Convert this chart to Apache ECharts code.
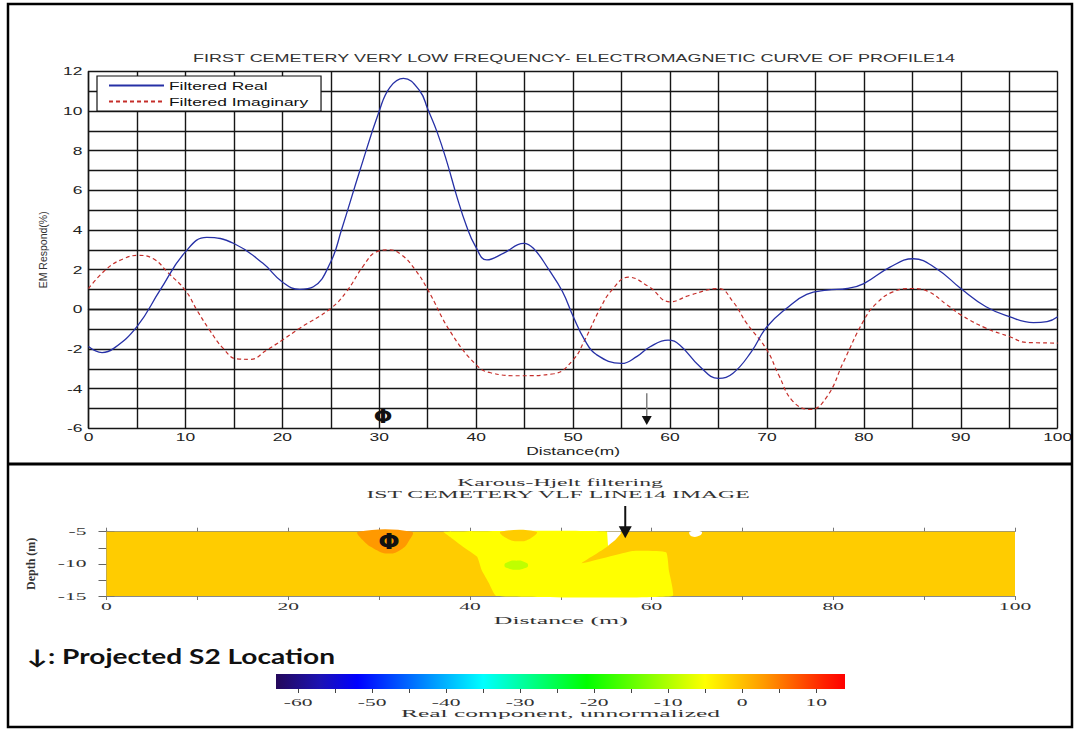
<!DOCTYPE html>
<html>
<head>
<meta charset="utf-8">
<script src="https://cdn.jsdelivr.net/npm/echarts@6/dist/echarts.min.js"></script>
<style>
  html, body { margin: 0; padding: 0; background: #fff; }
  #chart { width: 1075px; height: 732px; }
</style>
</head>
<body>
<div id="chart"></div>
<script>
// ---- Profile 14: filtered VLF-EM readings (distance in m, response in %) ----
const realDistance = [0,1.4,2.6,5,7.4,10,12.2,15,18,20,21.8,23.2,25,26.1,28,30,31.1,32.5,34.2,35,36,37,38,39,39.9,41.1,42.8,44.9,45.9,47.5,48.9,50,51.2,52.4,55,56.6,57.9,59.8,61,63.1,65,66.5,68.4,70,72.1,74.1,76.2,78.3,80,82.7,85.1,87.5,90,92.6,95,97.5,98.9,100];
const realValues = [-1.88,-2.18,-1.97,-0.87,0.98,2.9,3.63,3.32,2.32,1.38,1.01,1.14,2.4,4.0,7.0,10.0,11.2,11.65,11.0,10.1,8.9,7.4,5.7,4.2,3.2,2.49,2.82,3.33,3.08,2.0,0.9,-0.35,-1.55,-2.28,-2.73,-2.37,-1.9,-1.55,-1.8,-2.9,-3.48,-3.22,-2.13,-0.88,0.08,0.75,0.97,1.05,1.3,2.13,2.55,2.05,1.05,0.13,-0.37,-0.67,-0.62,-0.37];

const imagDistance = [0,1.9,3.6,5.1,6.7,8.2,10,11.2,12.5,13.9,15.3,16.7,18.4,20,21.8,25,26.6,28.4,29.7,31,32.3,33.7,35,37.3,40,41.5,44.5,48,50,51.2,52.8,54,55.7,57.8,60,62.1,65,66.5,67.9,70,71.2,72.7,74.5,76.2,77.9,80,81.3,83,85,86.5,88.6,90,92.6,95,96.8,100];
const imagValues = [1.05,2.05,2.55,2.72,2.55,1.85,0.95,-0.05,-1.05,-1.97,-2.5,-2.52,-2.05,-1.55,-0.95,0.05,0.88,2.22,2.9,3.0,2.75,2.0,1.0,-1.1,-2.8,-3.2,-3.35,-3.25,-2.55,-1.55,0.05,0.97,1.62,1.15,0.38,0.72,1.05,0.38,-0.7,-2.05,-3.3,-4.65,-5.05,-4.4,-2.65,-0.55,0.3,0.88,1.05,0.93,0.22,-0.28,-0.95,-1.37,-1.67,-1.7];

const seriesNames = ['Filtered Real', 'Filtered Imaginary'];

// Annotations: the grave symbol and the projected S2 position
const graveSymbol = 'Φ';
const graveTop = [30.4, -5.4];          // [distance, response]
const s2Top = [57.6, -4.23, -5.83];     // [distance, arrow start, arrow tip]
const graveBottom = [31.1, -6.6];       // [distance, depth]
const s2Bottom = [57.1, -1.0, -6.0];    // [distance, arrow start depth, tip depth]

// ---- Karous-Hjelt section: filled contour bands [distance, depth] ----
const fullSection  = [[0,-5],[100,-5],[100,-15],[0,-15]];
const phiAnomaly   = [[27.7,-5],[28.2,-6.3],[29.4,-7.6],[31,-8.4],[32.4,-7.8],[33.3,-6.4],[33.6,-5]];
const yellowZone   = [[37.1,-5],[55.2,-5],[55.3,-7.1],[52.3,-9.9],[57.9,-8.0],[61.6,-8.2],[61.9,-11],[62.3,-15],[42.9,-15],[42.1,-13],[41.3,-11],[40.8,-8.9],[39.2,-7.3],[37.9,-5.9]];
const orangeNotch  = [[43.4,-5],[43.9,-5.9],[45.3,-6.5],[46.7,-6.0],[47.3,-5]];
const greenCore    = [[43.8,-10.2],[44.2,-9.7],[45.1,-9.5],[46.0,-9.7],[46.4,-10.2],[46.0,-10.7],[45.1,-10.9],[44.2,-10.7]];
const gapNearS2    = [[55.1,-5],[55.2,-7.2],[56.0,-6.3],[56.6,-5.3],[56.6,-5]];
const gapEast      = [[64.2,-5],[64.4,-5.7],[65.3,-5.6],[65.5,-5]];

const bandShapes = [fullSection, phiAnomaly, yellowZone, orangeNotch, greenCore, gapNearS2, gapEast];
const bandLevels = [-1, 3, -5, -1, -9, null, null];   // null = blanked
const bandSmooth = [0, 0.45, 0.12, 0.5, 0.6, 0, 0.5];

// Colour scale of the real component
const scaleMin = -63, scaleMax = 13.9;
const colorStops = [[-63,'#24085a'],[-57,'#1c12b4'],[-52,'#0000ff'],[-35,'#00ffff'],[-21,'#00ff00'],[-5,'#ffff00'],[3,'#ff9900'],[11,'#ff2200'],[13.9,'#ff0000']];
const colorbarLabels = [-60,-50,-40,-30,-20,-10,0,10];
const colorbarTicks = [-60,-55,-50,-45,-40,-35,-30,-25,-20,-15,-10,-5,0,5,10];

const chartTitle = 'FIRST CEMETERY VERY LOW FREQUENCY- ELECTROMAGNETIC CURVE OF PROFILE14';
const sectionTitle = 'Karous-Hjelt filtering';
const sectionSubtitle = 'IST CEMETERY VLF LINE14 IMAGE';
const s2Note = '↓: Projected S2 Location';
const colorbarName = 'Real component, unnormalized';

// Horizontal widening of the text (wide lettering), per font family,
// with a few strings given an explicit drawn width in px
const textStretch = { 'Liberation Sans': 1.58, 'Liberation Serif': 2.15, 'Lato': 1.3, 'DejaVu Sans': 1.15 };
const textWidth = {};
textWidth[chartTitle] = 762;
textWidth[colorbarName] = 319;
textWidth[s2Note] = 308;
textWidth['Distance (m)'] = 134;

function hexRgb(h) { return [1, 3, 5].map(i => parseInt(h.substr(i, 2), 16)); }
function levelColor(v) {
  if (v === null) return '#ffffff';
  if (v <= colorStops[0][0]) return colorStops[0][1];
  for (let i = 1; i < colorStops.length; i++) {
    const [v1, c1] = colorStops[i];
    if (v <= v1) {
      const [v0, c0] = colorStops[i - 1];
      const t = (v - v0) / (v1 - v0);
      const a = hexRgb(c0), b = hexRgb(c1);
      return 'rgb(' + a.map((x, k) => Math.round(x + (b[k] - x) * t)).join(',') + ')';
    }
  }
  return colorStops[colorStops.length - 1][1];
}

const zip = (xs, ys) => xs.map((x, i) => [x, ys[i]]);

const SANS = 'Liberation Sans', SERIF = 'Liberation Serif';
const gridLine = { color: '#161616', width: 1.4 };
const sansLabel = { fontFamily: SANS, fontSize: 11, color: '#222' };
const serifLabel = { fontFamily: SERIF, fontSize: 10, color: '#333' };

function arrowRenderer(shaftColor, shaftWidth, headW, headL) {
  return function (params, api) {
    const start = api.coord([api.value(0), api.value(1)]);
    const tip = api.coord([api.value(0), api.value(2)]);
    return {
      type: 'group',
      children: [
        { type: 'line', shape: { x1: start[0], y1: start[1], x2: tip[0], y2: tip[1] - headL + 1 },
          style: { stroke: shaftColor, lineWidth: shaftWidth } },
        { type: 'polygon', shape: { points: [[tip[0] - headW / 2, tip[1] - headL], [tip[0] + headW / 2, tip[1] - headL], [tip[0], tip[1]]] },
          style: { fill: '#111' } }
      ]
    };
  };
}
function symbolRenderer(size) {
  return function (params, api) {
    const p = api.coord([api.value(0), api.value(1)]);
    return { type: 'text', x: p[0], y: p[1],
      style: { text: graveSymbol, fill: '#111', fontSize: size, fontWeight: 'bold', fontFamily: 'DejaVu Sans',
               align: 'center', verticalAlign: 'middle' } };
  };
}

const option = {
  animation: false,
  backgroundColor: '#fff',
  legend: {
    data: seriesNames,
    orient: 'vertical',
    left: 97, top: 76,
    padding: [4, 64, 4, 11],
    itemGap: 5, itemWidth: 55, itemHeight: 11,
    itemStyle: { opacity: 0 },
    backgroundColor: '#fff', borderColor: '#111', borderWidth: 1.2, borderRadius: 0,
    textStyle: { fontFamily: SANS, fontSize: 11, color: '#111' }
  },
  grid: [
    { left: 88.5, right: 17.3, top: 71.4, bottom: 303.7 },
    { left: 106.5, right: 60, top: 531.7, bottom: 136 },
    { left: 276, right: 230, top: 674, bottom: 43 }
  ],
  xAxis: [
    { gridIndex: 0, type: 'value', min: 0, max: 100, interval: 5,
      axisLine: { lineStyle: gridLine }, axisTick: { show: false },
      splitLine: { show: true, lineStyle: gridLine },
      axisLabel: Object.assign({ margin: 3, formatter: v => (v % 10 === 0 ? String(v) : '') }, sansLabel),
      name: 'Distance(m)', nameLocation: 'middle', nameGap: 17,
      nameTextStyle: Object.assign({}, sansLabel) },
    { gridIndex: 1, type: 'value', min: 0, max: 100, interval: 10, position: 'bottom',
      axisLine: { lineStyle: { color: '#8a8a8a', width: 1 } },
      axisTick: { show: true, length: 4, lineStyle: { color: '#777' } },
      splitLine: { show: false },
      axisLabel: Object.assign({ margin: 5, formatter: v => (v % 20 === 0 ? String(v) : '') }, serifLabel),
      name: 'Distance (m)', nameLocation: 'middle', nameGap: 18,
      nameTextStyle: { fontFamily: SERIF, fontSize: 11, color: '#333' } },
    { gridIndex: 1, type: 'value', min: 0, max: 100, interval: 10, position: 'top',
      axisLine: { lineStyle: { color: '#8a8a8a', width: 1 } },
      axisTick: { show: true, length: 4, lineStyle: { color: '#777' } },
      splitLine: { show: false }, axisLabel: { show: false } },
    { gridIndex: 2, type: 'value', min: scaleMin, max: scaleMax,
      axisLine: { show: false },
      axisTick: { show: true, length: 4, customValues: colorbarTicks, lineStyle: { color: '#444' } },
      splitLine: { show: false },
      axisLabel: Object.assign({ margin: 8, customValues: colorbarLabels }, serifLabel),
      name: colorbarName, nameLocation: 'middle', nameGap: 17,
      nameTextStyle: { fontFamily: SERIF, fontSize: 11, color: '#333' } }
  ],
  yAxis: [
    { gridIndex: 0, type: 'value', min: -6, max: 12, interval: 1,
      axisLine: { lineStyle: gridLine }, axisTick: { show: false },
      splitLine: { show: true, lineStyle: gridLine },
      axisLabel: Object.assign({ margin: 6, formatter: v => (v % 2 === 0 ? String(v) : '') }, sansLabel),
      name: 'EM Respond(%)', nameLocation: 'middle', nameRotate: 90, nameGap: 40,
      nameTextStyle: { fontFamily: 'Arial', fontSize: 10.5, color: '#333' } },
    { gridIndex: 1, type: 'value', min: -15, max: -5, interval: 2.5, position: 'left',
      axisLine: { lineStyle: { color: '#5e5e44', width: 2 } },
      axisTick: { show: true, length: 8, lineStyle: { color: '#666' } },
      splitLine: { show: false },
      axisLabel: Object.assign({ margin: 20, formatter: v => (v % 5 === 0 ? String(v) : '') }, serifLabel),
      name: 'Depth (m)', nameLocation: 'middle', nameRotate: 90, nameGap: 70,
      nameTextStyle: { fontFamily: SERIF, fontSize: 12, fontWeight: 'bold', color: '#333' } },
    { gridIndex: 1, type: 'value', min: -15, max: -5, interval: 2.5, position: 'right',
      axisLine: { lineStyle: { color: '#8a8a8a', width: 1 } },
      axisTick: { show: true, length: 8, lineStyle: { color: '#777' } },
      splitLine: { show: false }, axisLabel: { show: false } },
    { gridIndex: 2, type: 'value', min: 0, max: 1, show: false }
  ],
  graphic: [
    { type: 'rect', shape: { x: 8, y: 4, width: 1064, height: 723 },
      style: { fill: 'none', stroke: '#000', lineWidth: 2.5 }, z: 100 },
    { type: 'line', shape: { x1: 8, y1: 464, x2: 1072, y2: 464 },
      style: { stroke: '#000', lineWidth: 3 }, z: 100 },
    { type: 'text', x: 574, y: 58,
      style: { text: chartTitle, fill: '#333', fontFamily: SANS, fontSize: 10.5, align: 'center', verticalAlign: 'middle' } },
    { type: 'text', x: 560, y: 482,
      style: { text: sectionTitle, fill: '#333', fontFamily: SERIF, fontSize: 11, align: 'center', verticalAlign: 'middle' } },
    { type: 'text', x: 558, y: 493.5,
      style: { text: sectionSubtitle, fill: '#333', fontFamily: SERIF, fontSize: 11, align: 'center', verticalAlign: 'middle' } },
    { type: 'text', x: 27, y: 656,
      style: { text: s2Note, fill: '#111', fontFamily: 'Lato', fontWeight: 'bold', fontSize: 20,
               align: 'left', verticalAlign: 'middle' } }
  ],
  series: [
    { name: seriesNames[0], type: 'line', xAxisIndex: 0, yAxisIndex: 0,
      data: zip(realDistance, realValues), showSymbol: false, symbol: 'none',
      smooth: 0.45,
      lineStyle: { color: '#2630a6', width: 1.3 }, itemStyle: { color: '#2630a6' }, z: 5 },
    { name: seriesNames[1], type: 'line', xAxisIndex: 0, yAxisIndex: 0,
      data: zip(imagDistance, imagValues), showSymbol: false, symbol: 'none',
      smooth: 0.45,
      lineStyle: { color: '#c52e2a', width: 1.2, type: [4, 3] }, itemStyle: { color: '#c52e2a' }, z: 4 },
    { type: 'custom', xAxisIndex: 0, yAxisIndex: 0, data: [s2Top],
      renderItem: arrowRenderer('#808080', 1.5, 10, 9), z: 6, silent: true },
    { type: 'custom', xAxisIndex: 0, yAxisIndex: 0, data: [graveTop],
      renderItem: symbolRenderer(19), z: 6, silent: true },
    { type: 'custom', xAxisIndex: 1, yAxisIndex: 1,
      data: bandShapes.map((s, i) => [s[0][0], s[0][1], i]),
      renderItem: function (params, api) {
        const i = params.dataIndex;
        return { type: 'polygon',
          shape: { points: bandShapes[i].map(p => api.coord(p)), smooth: bandSmooth[i] },
          style: { fill: levelColor(bandLevels[i]) } };
      }, z: 1, silent: true },
    { type: 'custom', xAxisIndex: 1, yAxisIndex: 1, data: [s2Bottom],
      renderItem: arrowRenderer('#111', 2, 13, 12), z: 6, silent: true, clip: false },
    { type: 'custom', xAxisIndex: 1, yAxisIndex: 1, data: [graveBottom],
      renderItem: symbolRenderer(22), z: 6, silent: true },
    { type: 'custom', xAxisIndex: 3, yAxisIndex: 3, data: [[scaleMin, scaleMax]],
      renderItem: function (params, api) {
        const a = api.coord([api.value(0), 1]);
        const b = api.coord([api.value(1), 0]);
        const span = scaleMax - scaleMin;
        const stops = colorStops.map(([v, c]) => ({ offset: (v - scaleMin) / span, color: c }));
        return { type: 'rect', shape: { x: a[0], y: a[1], width: b[0] - a[0], height: b[1] - a[1] },
          style: { fill: new echarts.graphic.LinearGradient(0, 0, 1, 0, stops) } };
      }, z: 1, silent: true }
  ]
};

const chart = echarts.init(document.getElementById('chart'), null, { renderer: 'svg', width: 1075, height: 732 });

function widenTexts() {
  const svg = document.querySelector('#chart svg');
  if (!svg) return;
  svg.querySelectorAll('text').forEach(t => {
    if (t.hasAttribute('textLength')) return;
    const tr = t.getAttribute('transform') || '';
    const m = tr.match(/matrix\(([^)]+)\)/);
    if (m) {
      const p = m[1].split(/[\s,]+/).map(Number);
      if (Math.abs(p[1]) > 1e-3) return;
    }
    const content = t.textContent;
    let target = textWidth[content];
    if (!target) {
      const st = (t.getAttribute('style') || '') + ' ' + (t.getAttribute('font-family') || '');
      let f = 0;
      for (const fam in textStretch) if (st.indexOf(fam) >= 0) f = textStretch[fam];
      if (!f) return;
      target = t.getComputedTextLength() * f;
    }
    if (target > 0) {
      t.setAttribute('textLength', target.toFixed(1));
      t.setAttribute('lengthAdjust', 'spacingAndGlyphs');
    }
  });
}
chart.on('finished', widenTexts);
chart.setOption(option);
setTimeout(widenTexts, 50);
</script>
</body>
</html>
